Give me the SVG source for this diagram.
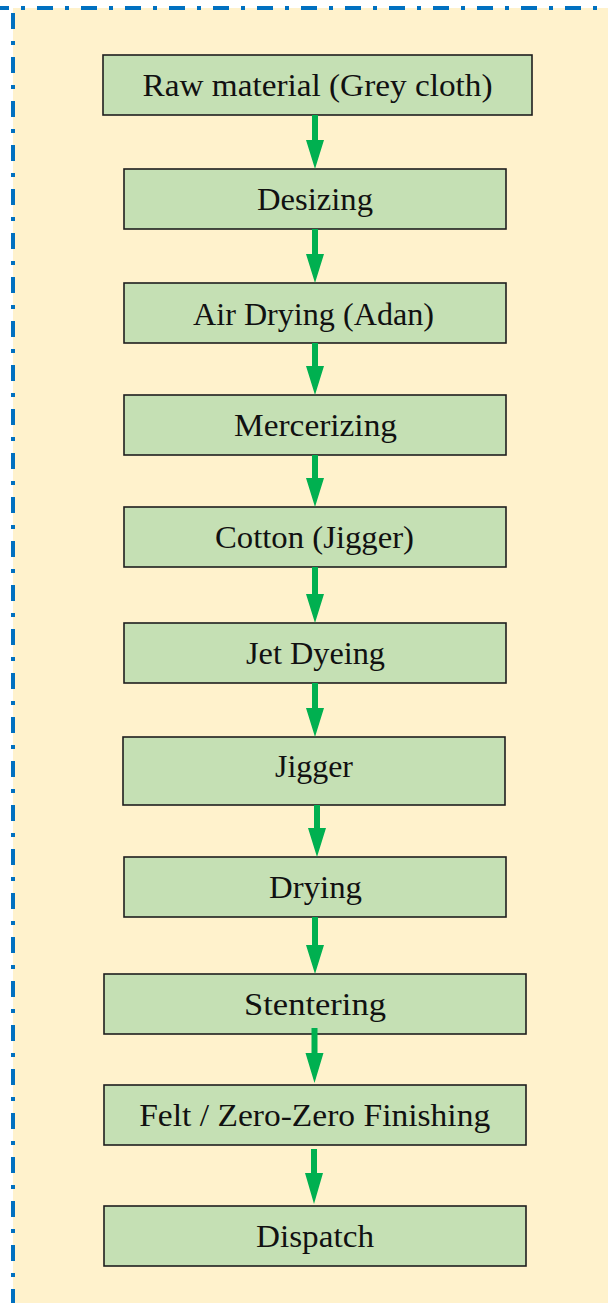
<svg xmlns="http://www.w3.org/2000/svg" width="608" height="1303" viewBox="0 0 608 1303">
  <defs>
    <style>
      .panel { fill: #FFF2CC; }
      .frame { stroke: #0070C0; stroke-width: 4; stroke-dasharray: 16 12 4 12; fill: none; }
      .box { fill: #C5E0B4; stroke: #1E1E1E; stroke-width: 1.6; }
      .label { font-family: "Liberation Serif", "Times New Roman", serif; font-size: 31px; fill: #111111; text-anchor: middle; }
      .arrow { fill: #00B050; stroke: none; }
    </style>
  </defs>

  <!-- background panel with dash-dot frame -->
  <rect class="panel" x="13" y="8" width="595" height="1295"/>
  <line class="frame" x1="-7" y1="8" x2="608" y2="8"/>
  <line class="frame" x1="13" y1="13" x2="13" y2="1303"/>

  <!-- process steps -->
  <g id="raw-material">
    <rect class="box" x="103" y="55" width="429" height="60"/>
    <text class="label" x="317.5" y="96" textLength="350" lengthAdjust="spacingAndGlyphs">Raw material (Grey cloth)</text>
  </g>
  <g id="desizing">
    <rect class="box" x="124" y="169" width="382" height="60"/>
    <text class="label" x="315" y="210" textLength="116" lengthAdjust="spacingAndGlyphs">Desizing</text>
  </g>
  <g id="air-drying">
    <rect class="box" x="124" y="283" width="382" height="60"/>
    <text class="label" x="313.5" y="325" textLength="241" lengthAdjust="spacingAndGlyphs">Air Drying (Adan)</text>
  </g>
  <g id="mercerizing">
    <rect class="box" x="124" y="395" width="382" height="60"/>
    <text class="label" x="315.5" y="436" textLength="163" lengthAdjust="spacingAndGlyphs">Mercerizing</text>
  </g>
  <g id="cotton-jigger">
    <rect class="box" x="124" y="507" width="382" height="60"/>
    <text class="label" x="314.5" y="548" textLength="199" lengthAdjust="spacingAndGlyphs">Cotton (Jigger)</text>
  </g>
  <g id="jet-dyeing">
    <rect class="box" x="124" y="623" width="382" height="60"/>
    <text class="label" x="315.5" y="664" textLength="139" lengthAdjust="spacingAndGlyphs">Jet Dyeing</text>
  </g>
  <g id="jigger">
    <rect class="box" x="123" y="737" width="382" height="68"/>
    <text class="label" x="314" y="777" textLength="78" lengthAdjust="spacingAndGlyphs">Jigger</text>
  </g>
  <g id="drying">
    <rect class="box" x="124" y="857" width="382" height="60"/>
    <text class="label" x="315.5" y="898" textLength="93" lengthAdjust="spacingAndGlyphs">Drying</text>
  </g>
  <g id="stentering">
    <rect class="box" x="104" y="974" width="422" height="60"/>
    <text class="label" x="315" y="1015" textLength="142" lengthAdjust="spacingAndGlyphs">Stentering</text>
  </g>
  <g id="finishing">
    <rect class="box" x="104" y="1085" width="422" height="60"/>
    <text class="label" x="314.7" y="1126" textLength="351" lengthAdjust="spacingAndGlyphs">Felt / Zero-Zero Finishing</text>
  </g>
  <g id="dispatch">
    <rect class="box" x="104" y="1206" width="422" height="60"/>
    <text class="label" x="315" y="1247" textLength="118" lengthAdjust="spacingAndGlyphs">Dispatch</text>
  </g>

  <!-- downward flow arrows: shaft 6 wide, head 18 wide x 29 long -->
  <g id="connectors">
    <polygon class="arrow" points="312,115 318,115 318,140 324,140 315,169 306,140 312,140"/>
    <polygon class="arrow" points="312,229 318,229 318,254 324,254 315,283 306,254 312,254"/>
    <polygon class="arrow" points="312,343 318,343 318,366 324,366 315,395 306,366 312,366"/>
    <polygon class="arrow" points="312,455 318,455 318,478 324,478 315,507 306,478 312,478"/>
    <polygon class="arrow" points="312,567 318,567 318,594 324,594 315,623 306,594 312,594"/>
    <polygon class="arrow" points="312,683 318,683 318,708 324,708 315,737 306,708 312,708"/>
    <polygon class="arrow" points="314,805 320,805 320,828 326,828 317,857 308,828 314,828"/>
    <polygon class="arrow" points="312,917 318,917 318,945 324,945 315,974 306,945 312,945"/>
    <polygon class="arrow" points="311.5,1028 317.5,1028 317.5,1053 323.5,1053 314.5,1083 305.5,1053 311.5,1053"/>
    <polygon class="arrow" points="311,1149 317,1149 317,1173 323,1173 314,1204 305,1173 311,1173"/>
  </g>
</svg>
